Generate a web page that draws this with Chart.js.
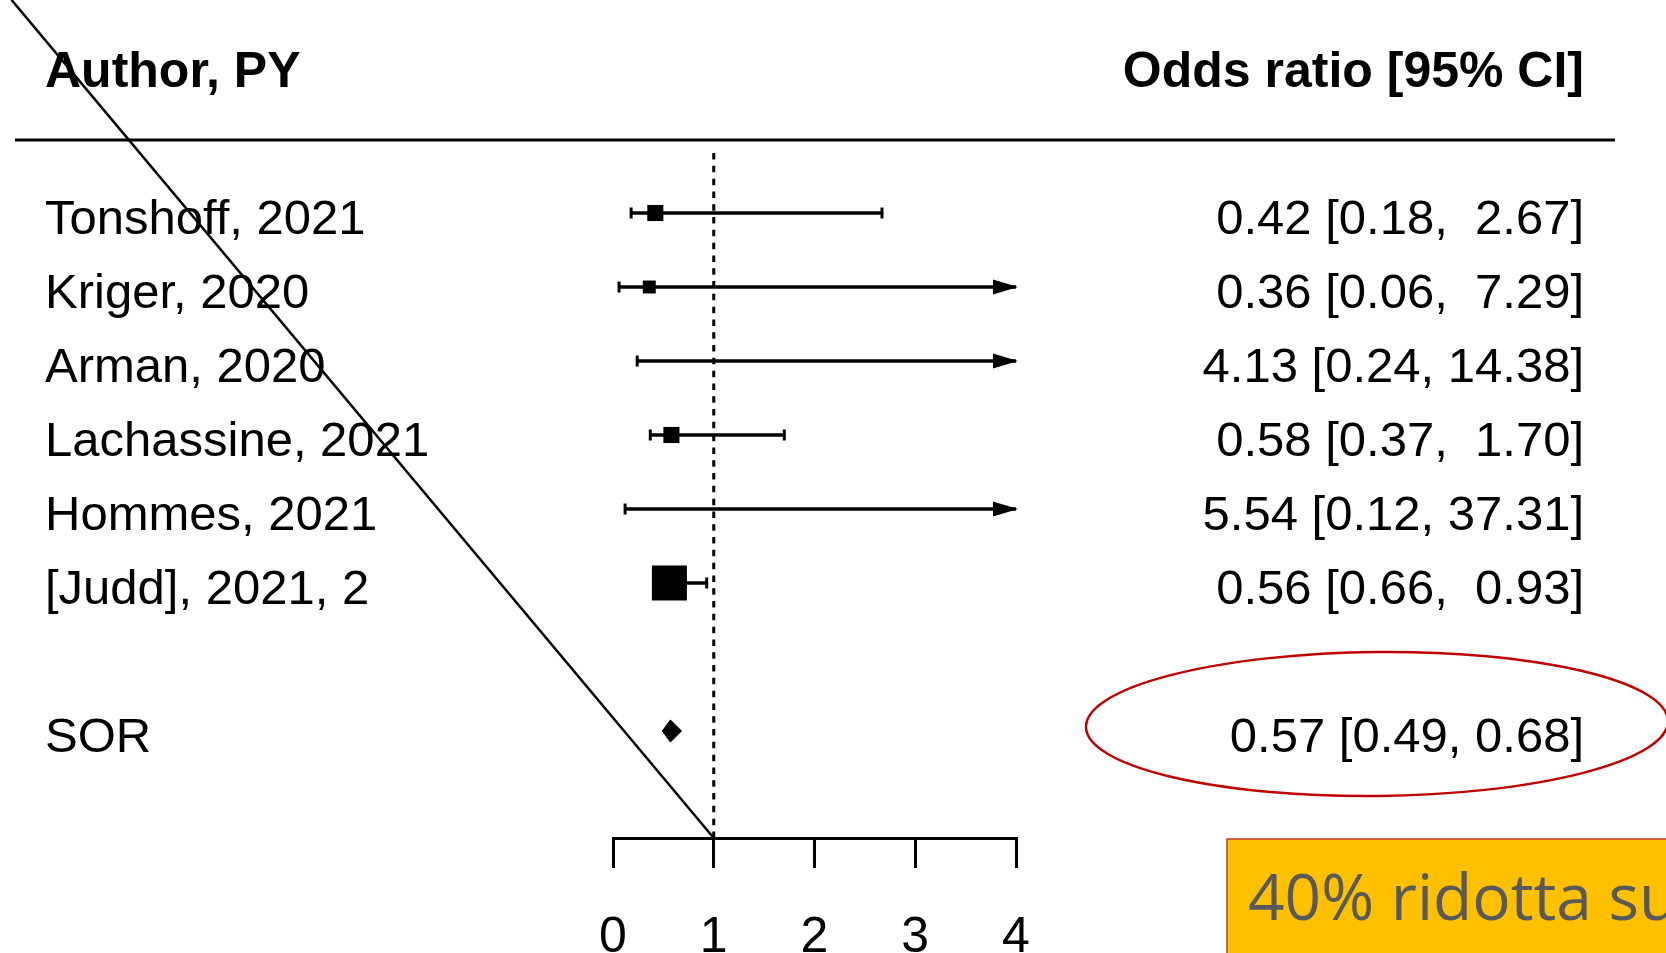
<!DOCTYPE html>
<html>
<head>
<meta charset="utf-8">
<title>Forest plot</title>
<script src="https://cdn.jsdelivr.net/npm/chart.js"></script>
<style>
    html, body { margin: 0; padding: 0; background: #ffffff; overflow: hidden; height: 953px; }
    .chart-wrap { position: relative; width: 1666px; height: 1008px; }
</style>
</head>
<body>
<div class="chart-wrap"><canvas id="forestChart"></canvas></div>
<script>
const studies = ['Tonshoff, 2021', 'Kriger, 2020', 'Arman, 2020', 'Lachassine, 2021', 'Hommes, 2021', '[Judd], 2021, 2'];
const oddsRatio = [0.42, 0.36, 4.13, 0.58, 5.54, 0.56];
const ciLower = [0.18, 0.06, 0.24, 0.37, 0.12, 0.66];
const ciUpper = [2.67, 7.29, 14.38, 1.70, 37.31, 0.93];
const weights = [0.46, 0.37, 0.3, 0.46, 0.3, 1.0];
const studyRows = [1, 2, 3, 4, 5, 6];

const summaryLabel = 'SOR';
const summaryRow = 8;
const summaryOR = 0.57;
const summaryLower = 0.49;
const summaryUpper = 0.68;

const xTicks = [0, 1, 2, 3, 4];
const headerLeft = 'Author, PY';
const headerRight = 'Odds ratio [95% CI]';
const noteText = '40% ridotta su';

const X_MIN = 0, X_MAX = 4;
const Y_MAX = 9.446;
const BIG_BOX = 35;

const clampX = v => Math.min(X_MAX, Math.max(X_MIN, v));

function ciText(est, lo, hi, pad) {
    const hiTxt = pad ? hi.toFixed(2).padStart(5, ' ') : hi.toFixed(2);
    return `${est.toFixed(2)} [${lo.toFixed(2)}, ${hiTxt}]`;
}

const ciDatasets = studies.map((s, i) => ({
    type: 'line',
    data: [{ x: clampX(ciLower[i]), y: studyRows[i] }, { x: clampX(ciUpper[i]), y: studyRows[i] }],
    borderColor: '#000',
    borderWidth: 3.5,
    pointRadius: 0,
    fill: false
}));

const caps = [];
studies.forEach((s, i) => {
    if (ciLower[i] >= X_MIN) caps.push({ x: ciLower[i], y: studyRows[i] });
    if (ciUpper[i] <= X_MAX) caps.push({ x: ciUpper[i], y: studyRows[i] });
});

const boxes = [];
const boxRadius = [];
studies.forEach((s, i) => {
    if (oddsRatio[i] >= X_MIN && oddsRatio[i] <= X_MAX) {
        boxes.push({ x: oddsRatio[i], y: studyRows[i] });
        boxRadius.push(BIG_BOX * weights[i] / Math.SQRT2);
    }
});

const dh = 0.15;
const diamond = [
    { x: summaryLower, y: summaryRow },
    { x: summaryOR, y: summaryRow - dh },
    { x: summaryUpper, y: summaryRow },
    { x: summaryOR, y: summaryRow + dh },
    { x: summaryLower, y: summaryRow }
];

const textPlugin = {
    id: 'forestText',
    afterDatasetsDraw(chart) {
        const { ctx, scales } = chart;
        const x = scales.x, y = scales.y;
        ctx.save();

        // arrows for intervals running past the axis
        ctx.fillStyle = '#000';
        studies.forEach((s, i) => {
            if (ciUpper[i] <= X_MAX) return;
            const tip = x.getPixelForValue(X_MAX) + 2;
            const py = y.getPixelForValue(studyRows[i]);
            ctx.beginPath();
            ctx.moveTo(tip, py);
            ctx.lineTo(tip - 25, py - 7.5);
            ctx.lineTo(tip - 25, py + 7.5);
            ctx.closePath();
            ctx.fill();
        });

        // header rule
        ctx.strokeStyle = '#000';
        ctx.lineWidth = 3;
        ctx.beginPath();
        ctx.moveTo(15, 140);
        ctx.lineTo(1615, 140);
        ctx.stroke();

        ctx.fillStyle = '#000';
        ctx.textBaseline = 'alphabetic';
        ctx.font = 'bold 50px "Liberation Sans", Arial, sans-serif';
        ctx.textAlign = 'left';
        ctx.fillText(headerLeft, 45, 87);
        ctx.textAlign = 'right';
        ctx.fillText(headerRight, 1584, 87);

        ctx.font = '49px "Liberation Sans", Arial, sans-serif';
        studies.forEach((s, i) => {
            const py = y.getPixelForValue(studyRows[i]) + 21;
            ctx.textAlign = 'left';
            ctx.fillText(s, 45, py);
            ctx.textAlign = 'right';
            ctx.fillText(ciText(oddsRatio[i], ciLower[i], ciUpper[i], true), 1584, py);
        });
        const sy = y.getPixelForValue(summaryRow) + 21;
        ctx.textAlign = 'left';
        ctx.fillText(summaryLabel, 45, sy);
        ctx.textAlign = 'right';
        ctx.fillText(ciText(summaryOR, summaryLower, summaryUpper, false), 1584, sy);

        // red ellipse around the pooled estimate
        ctx.strokeStyle = '#C00000';
        ctx.lineWidth = 2.5;
        ctx.beginPath();
        ctx.ellipse(1377, 724, 291, 72, -0.01, 0, Math.PI * 2);
        ctx.stroke();

        // orange note box
        ctx.fillStyle = '#FFC000';
        ctx.fillRect(1227, 839, 500, 200);
        ctx.strokeStyle = '#C0392B';
        ctx.lineWidth = 1.5;
        ctx.strokeRect(1227, 839, 500, 200);
        ctx.fillStyle = '#595959';
        ctx.textAlign = 'left';
        ctx.font = '64px "Open Sans", sans-serif';
        ctx.fillText(noteText, 1248, 920);

        ctx.restore();
    }
};

new Chart(document.getElementById('forestChart'), {
    type: 'scatter',
    data: {
        datasets: [
            {
                type: 'line',
                data: [{ x: -5.97, y: -1.88 }, { x: 1, y: Y_MAX }],
                borderColor: '#000',
                borderWidth: 2.5,
                pointRadius: 0,
                clip: false
            },
            {
                type: 'line',
                data: [{ x: 1, y: 0.19 }, { x: 1, y: Y_MAX }],
                borderColor: '#000',
                borderWidth: 3,
                borderDash: [6.5, 6.3],
                pointRadius: 0
            },
            ...ciDatasets,
            {
                data: caps,
                pointStyle: 'line',
                rotation: 90,
                pointRadius: 5.5,
                borderColor: '#000',
                borderWidth: 3
            },
            {
                data: boxes,
                pointStyle: 'rect',
                pointRadius: boxRadius,
                backgroundColor: '#000',
                borderWidth: 0
            },
            {
                type: 'line',
                data: diamond,
                borderColor: '#000',
                backgroundColor: '#000',
                borderWidth: 1,
                pointRadius: 0,
                fill: 'shape'
            }
        ]
    },
    options: {
        responsive: true,
        maintainAspectRatio: false,
        animation: false,
        layout: { padding: { left: 613, right: 650, top: 139, bottom: 0 } },
        plugins: {
            legend: { display: false },
            tooltip: { enabled: false }
        },
        scales: {
            x: {
                type: 'linear',
                min: X_MIN,
                max: X_MAX,
                afterBuildTicks: axis => { axis.ticks = xTicks.map(v => ({ value: v })); },
                grid: {
                    drawOnChartArea: false,
                    drawTicks: true,
                    tickLength: 30,
                    color: '#000',
                    lineWidth: 3
                },
                border: { display: true, color: '#000', width: 3 },
                ticks: {
                    color: '#000',
                    padding: 52,
                    maxRotation: 0,
                    font: { family: '"Liberation Sans", Arial, sans-serif', size: 50, lineHeight: 0.72 }
                }
            },
            y: {
                type: 'linear',
                display: false,
                min: 0,
                max: Y_MAX,
                reverse: true
            }
        }
    },
    plugins: [textPlugin]
});
</script>
</body>
</html>
